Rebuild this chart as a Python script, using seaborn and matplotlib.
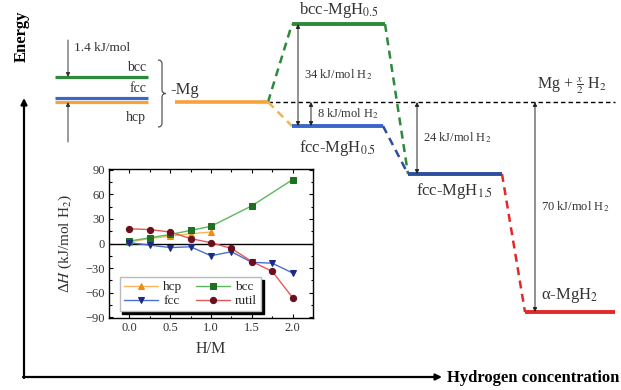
import matplotlib
matplotlib.use("Agg")
import matplotlib.pyplot as plt
from matplotlib.path import Path
from matplotlib.patches import PathPatch
from matplotlib.ticker import MultipleLocator
import seaborn as sns

# ---------------------------------------------------------------- data
# Mg polymorphs, energy relative to hcp Mg (kJ/mol)
mg_phases = ["bcc", "fcc", "hcp"]
mg_phase_energy = [1.4, 0.2, 0.0]

# hydride levels relative to Mg + x/2 H2 (kJ/mol H2)
hydride_labels = ["bcc-MgH$_{0.5}$", "fcc-MgH$_{0.5}$", "fcc-MgH$_{1.5}$", "α-MgH$_2$"]
hydride_energy = [26.0, -8.0, -24.0, -70.0]
reference_energy = 0.0

# inset: formation enthalpy vs. H/M
hm_hcp = [0.0, 0.25, 0.5, 0.75, 1.0]
dh_hcp = [2, 6, 9, 12, 14]
hm_bcc = [0.0, 0.25, 0.5, 0.75, 1.0, 1.5, 2.0]
dh_bcc = [3, 7, 11, 16, 21, 46, 78]
hm_fcc = [0.0, 0.25, 0.5, 0.75, 1.0, 1.25, 1.5, 1.75, 2.0]
dh_fcc = [1, -2, -5, -4, -15, -10, -23, -24, -36]
hm_rutil = [0.0, 0.25, 0.5, 0.75, 1.0, 1.25, 1.5, 1.75, 2.0]
dh_rutil = [18, 17, 14, 6, 1, -6, -22, -34, -66]

# ---------------------------------------------------------------- layout
W, H = 621, 390
E0_PIX = 102          # pixel row of Mg + x/2 H2
PX_PER_KJ = 3.0       # vertical scale of the hydride diagram
MG_PX_PER_KJ = 17.86  # vertical scale of the (magnified) Mg polymorph levels

MG_SPAN = (175, 268)
HYDRIDE_SPANS = [(292, 385), (292, 383), (408, 502), (525, 615)]
POLY_SPAN = (55, 148)
REF_END = 615

C_ORANGE = "#f5a33a"
C_GREEN = "#2e8a3a"
C_BLUE = "#3a66c8"
C_NAVY = "#2c4e9e"
C_RED = "#e3282a"
LEVEL_COLORS = [C_GREEN, C_BLUE, C_NAVY, C_RED]
POLY_COLORS = [C_GREEN, C_BLUE, C_ORANGE]
TXT = "#333333"

sns.set_theme(style="white")
plt.rcParams["font.family"] = ["Liberation Serif", "DejaVu Serif"]
plt.rcParams["mathtext.fontset"] = "stix"

fig = plt.figure(figsize=(W / 100, H / 100), dpi=100)
fig.patch.set_facecolor("white")

# pixel overlay for the frame-level decorations
ax_px = fig.add_axes([0, 0, 1, 1], facecolor="none")
ax_px.set_xlim(0, W)
ax_px.set_ylim(H, 0)
ax_px.axis("off")

arrow_kw = dict(arrowstyle="-|>", color="black", lw=1.6, mutation_scale=9,
                shrinkA=0, shrinkB=0)
ax_px.annotate("", xy=(24, 98), xytext=(24, 378), arrowprops=arrow_kw)
ax_px.annotate("", xy=(442, 377), xytext=(23, 377), arrowprops=arrow_kw)
ax_px.text(22, 36, "Energy", rotation=90, ha="center", va="center",
           fontsize=12, fontweight="bold", color="black")
ax_px.text(619, 378, "Hydrogen concentration", ha="right", va="center",
           fontsize=12, fontweight="bold", color="black")


def draw_brace(axp, x, y_top, y_bot, width):
    ym = (y_top + y_bot) / 2
    xm = x + width / 2
    r = width / 2
    verts = [(x, y_top), (xm, y_top), (xm, y_top + r),
             (xm, ym - r), (xm, ym), (x + width, ym),
             (xm, ym), (xm, ym + r),
             (xm, y_bot - r), (xm, y_bot), (x, y_bot)]
    codes = [Path.MOVETO, Path.CURVE3, Path.CURVE3, Path.LINETO,
             Path.CURVE3, Path.CURVE3, Path.CURVE3, Path.CURVE3,
             Path.LINETO, Path.CURVE3, Path.CURVE3]
    axp.add_patch(PathPatch(Path(verts, codes), fill=False, lw=0.9,
                            edgecolor="#555555"))


draw_brace(ax_px, 158, 60, 127, 8)
ax_px.text(170, 90, "-Mg", ha="left", va="center", fontsize=12, color=TXT)

# ---------------------------------------------------------------- Mg polymorphs
ax_mg = fig.add_axes([0, 0, 1, 1], facecolor="none")
ax_mg.set_xlim(0, W)
ax_mg.set_ylim((E0_PIX - H) / MG_PX_PER_KJ, E0_PIX / MG_PX_PER_KJ)
ax_mg.axis("off")

for name, e, c in zip(mg_phases, mg_phase_energy, POLY_COLORS):
    ax_mg.hlines(e, *POLY_SPAN, color=c, lw=2.3)
label_offsets = {"bcc": 7, "fcc": 7, "hcp": -11}
for name, e in zip(mg_phases, mg_phase_energy):
    ax_mg.annotate(name, xy=(POLY_SPAN[1] - 2, e), xytext=(0, label_offsets[name]),
                   textcoords="offset points", ha="right", va="center",
                   fontsize=10, color=TXT)

e_bcc, e_hcp = mg_phase_energy[0], mg_phase_energy[2]
small_arrow = dict(arrowstyle="-|>", color="#333333", lw=0.7, mutation_scale=6,
                   shrinkA=0, shrinkB=0)
ax_mg.annotate("", xy=(68, e_bcc), xytext=(68, e_bcc + 37 / MG_PX_PER_KJ),
               arrowprops=small_arrow)
ax_mg.annotate("", xy=(68, e_hcp), xytext=(68, e_hcp - 40 / MG_PX_PER_KJ),
               arrowprops=small_arrow)
ax_mg.annotate(f"{e_bcc - e_hcp:g} kJ/mol", xy=(68, e_bcc), xytext=(4, 21),
               textcoords="offset points", ha="left", va="center",
               fontsize=9.5, color=TXT)

# ---------------------------------------------------------------- hydride diagram
ax = fig.add_axes([0, 0, 1, 1], facecolor="none")
ax.set_xlim(0, W)
ax.set_ylim((E0_PIX - H) / PX_PER_KJ, E0_PIX / PX_PER_KJ)
ax.axis("off")

dash = (0, (3.2, 2.2))
ax.hlines(reference_energy, MG_SPAN[1], REF_END, color="black", lw=1.0,
          linestyles=dash, zorder=1)
ax.hlines(reference_energy, *MG_SPAN, color=C_ORANGE, lw=2.6, zorder=3)
for e, (x0, x1), c in zip(hydride_energy, HYDRIDE_SPANS, LEVEL_COLORS):
    ax.hlines(e, x0, x1, color=c, lw=2.8, zorder=3)

# dashed connectors between consecutive levels
levels = {"Mg": (MG_SPAN, reference_energy)}
for lab, span, e in zip(["b05", "f05", "f15", "a2"], HYDRIDE_SPANS, hydride_energy):
    levels[lab] = (span, e)
connectors = [("Mg", "b05", C_GREEN), ("Mg", "f05", "#f2b648"),
              ("b05", "f15", C_GREEN), ("f05", "f15", C_NAVY),
              ("f15", "a2", C_RED)]
for a, b, c in connectors:
    (sa, ea), (sb, eb) = levels[a], levels[b]
    ax.plot([sa[1], sb[0]], [ea, eb], color=c, lw=1.8, ls=dash, zorder=2)

# energy gaps
gap_arrow = dict(arrowstyle="<|-|>", color="#222222", lw=0.7, mutation_scale=6,
                 shrinkA=0, shrinkB=0)
gaps = [(298, hydride_energy[1], hydride_energy[0]),
        (311, reference_energy, hydride_energy[1]),
        (417, reference_energy, hydride_energy[2]),
        (535, reference_energy, hydride_energy[3])]
for x, e_lo, e_hi in gaps:
    ax.annotate("", xy=(x, e_hi), xytext=(x, e_lo), arrowprops=gap_arrow, zorder=4)
    ax.text(x + 6, (e_lo + e_hi) / 2, f"{abs(e_hi - e_lo):g} kJ/mol H$_2$",
            ha="left", va="center", fontsize=9, color=TXT, zorder=5)

# level names
name_offsets = [10, -16, -12, 12]
for lab, e, (x0, x1), dy in zip(hydride_labels, hydride_energy, HYDRIDE_SPANS, name_offsets):
    ax.annotate(lab, xy=((x0 + x1) / 2, e), xytext=(0, dy),
                textcoords="offset points", ha="center", va="center",
                fontsize=12, color=TXT)
ax.annotate(r"Mg + $\frac{x}{2}$ H$_2$", xy=(572, reference_energy), xytext=(0, 12),
            textcoords="offset points", ha="center", va="center",
            fontsize=11.5, color=TXT)

# ---------------------------------------------------------------- inset
ax_in = fig.add_axes([109 / W, 1 - 318 / H, 204 / W, 149 / H], facecolor="white")
series = [
    ("hcp", hm_hcp, dh_hcp, "#f8b55c", "#f08c10", "^"),
    ("bcc", hm_bcc, dh_bcc, "#5cb85c", "#1f6f25", "s"),
    ("fcc", hm_fcc, dh_fcc, "#4a6fd0", "#1c2a80", "v"),
    ("rutil", hm_rutil, dh_rutil, "#e05a5a", "#6a0f1c", "o"),
]
for name, x, y, lc, mc, m in series:
    sns.lineplot(x=x, y=y, ax=ax_in, color=lc, lw=1.0, marker=m, markersize=4.5,
                 markerfacecolor=mc, markeredgecolor=mc, label=name)
ax_in.axhline(0, color="black", lw=1.0, zorder=1)
ax_in.set_xlim(-0.25, 2.25)
ax_in.set_ylim(-91, 91)
ax_in.set_xticks([0.0, 0.5, 1.0, 1.5, 2.0])
ax_in.set_xticklabels(["0.0", "0.5", "1.0", "1.5", "2.0"])
ax_in.set_yticks(range(-90, 91, 30))
ax_in.xaxis.set_minor_locator(MultipleLocator(0.25))
ax_in.yaxis.set_minor_locator(MultipleLocator(15))
ax_in.tick_params(which="both", direction="in", top=True, right=True,
                  bottom=True, left=True, colors="black", labelcolor=TXT,
                  labelsize=9, length=3, width=0.8, pad=3)
ax_in.tick_params(which="minor", length=1.8)
for s in ax_in.spines.values():
    s.set_color("black")
    s.set_linewidth(1.0)
ax_in.set_xlabel("H/M", fontsize=11.5, color=TXT, labelpad=5)
ax_in.set_ylabel("Δ$H$ (kJ/mol H$_2$)", fontsize=11, color=TXT, labelpad=8)

handles, labels = ax_in.get_legend_handles_labels()
hmap = dict(zip(labels, handles))
order = ["hcp", "fcc", "bcc", "rutil"]
ax_in.legend([hmap[k] for k in order], order, ncol=2, loc="lower left",
             bbox_to_anchor=(0.02, 0.0), fontsize=9.5, handlelength=2.6,
             handletextpad=0.4, columnspacing=1.0, labelspacing=0.15,
             borderpad=0.3, frameon=True, fancybox=False, edgecolor="#bbbbbb",
             framealpha=1, shadow={"color": "black", "alpha": 1})

fig.savefig("out.png", dpi=100, facecolor="white")
